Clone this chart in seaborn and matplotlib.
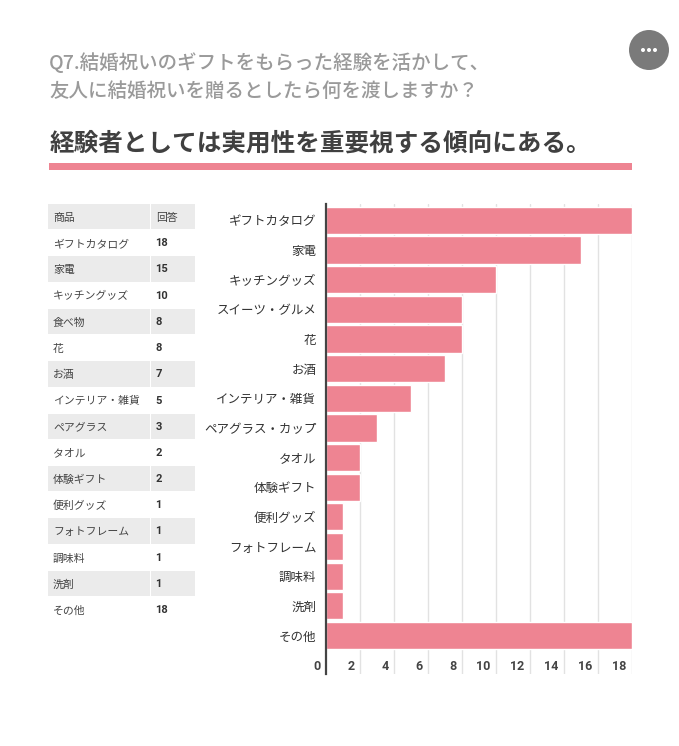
import pandas as pd
import matplotlib
matplotlib.use('Agg')
import matplotlib.pyplot as plt
from matplotlib.patches import Rectangle, Circle
import seaborn as sns

# data
chart_labels = ['ギフトカタログ', '家電', 'キッチングッズ', 'スイーツ・グルメ', '花', 'お酒',
                'インテリア・雑貨', 'ペアグラス・カップ', 'タオル', '体験ギフト', '便利グッズ',
                'フォトフレーム', '調味料', '洗剤', 'その他']
table_labels = ['ギフトカタログ', '家電', 'キッチングッズ', '食べ物', '花', 'お酒',
                'インテリア・雑貨', 'ペアグラス', 'タオル', '体験ギフト', '便利グッズ',
                'フォトフレーム', '調味料', '洗剤', 'その他']
answers = [18, 15, 10, 8, 8, 7, 5, 3, 2, 2, 1, 1, 1, 1, 18]
x_ticks = [2, 4, 6, 8, 10, 12, 14, 16, 18]
question = ['Q7.結婚祝いのギフトをもらった経験を活かして、', '友人に結婚祝いを贈るとしたら何を渡しますか？']
headline = '経験者としては実用性を重要視する傾向にある。'

sns.set_theme(style='white')
plt.rcParams['font.family'] = ['Noto Sans CJK JP', 'DejaVu Sans']

PINK = '#ee8492'
W, H = 679, 746

fig = plt.figure(figsize=(W / 100, H / 100), dpi=100, facecolor='white')

# overlay in pixel coordinates for header and table
bg = fig.add_axes([0, 0, 1, 1])
bg.set_xlim(0, W)
bg.set_ylim(H, 0)
bg.axis('off')

bg.text(49, 62.5, question[0], fontsize=14, fontweight='medium', color='#9a9a9a', va='center')
bg.text(49, 91.5, question[1], fontsize=14, fontweight='medium', color='#9a9a9a', va='center')
bg.text(49.5, 144, headline, fontsize=17.7, fontweight='bold', color='#404040', va='center')
bg.add_patch(Rectangle((49, 163), 583, 7, color=PINK, lw=0))

# menu button
bg.add_patch(Circle((649, 50), 20, color='#7a7a7a', lw=0))
for dx in (-6, 0, 6):
    bg.add_patch(Circle((649 + dx, 50), 2, color='white', lw=0))

# table
row_h = 26.2
top = 204
rows = [('商品', '回答')] + list(zip(table_labels, answers))
for i, (name, n) in enumerate(rows):
    y0 = top + i * row_h
    if i % 2 == 0 and i <= 14:
        bg.add_patch(Rectangle((48, y0), 102, row_h - 0.8, color='#ebebeb', lw=0))
        bg.add_patch(Rectangle((151, y0), 44, row_h - 0.8, color='#ebebeb', lw=0))
    yc = y0 + row_h / 2 + 0.8
    bg.text(53, yc, name, fontsize=7.8, color='#444444', va='center')
    if i == 0:
        bg.text(156, yc, n, fontsize=7.8, color='#444444', va='center')
    else:
        bg.text(155.5, yc - 0.8, str(n), fontsize=8, fontweight='bold', color='#333333',
                va='center', family=['Roboto', 'DejaVu Sans'])

# bar chart
df = pd.DataFrame({'item': chart_labels, 'count': answers})
ax_left, ax_right, ax_top, ax_bottom = 326, 632, 204, 674
ax = fig.add_axes([ax_left / W, 1 - ax_bottom / H, (ax_right - ax_left) / W, (ax_bottom - ax_top) / H])
ax.patch.set_alpha(0)
sns.barplot(data=df, x='count', y='item', color=PINK, saturation=1, width=0.92, ax=ax, zorder=3)
ax.set_xlim(0, 18)
ax.set_ylim(15.3, -0.55)
ax.set_xlabel('')
ax.set_ylabel('')
ax.set_xticks(x_ticks)
ax.set_xticklabels([])
ax.xaxis.grid(True, color='#e2e2e2', lw=1, zorder=0)
ax.yaxis.grid(False)
ax.tick_params(axis='both', length=0)
ax.tick_params(axis='y', labelsize=9, labelcolor='#333333', pad=7)
for side in ['top', 'right', 'bottom']:
    ax.spines[side].set_visible(False)
ax.spines['left'].set_color('#444444')
ax.spines['left'].set_linewidth(1.6)
ax.spines['left'].set_zorder(5)

# x tick numbers sit inside the plot, left of each gridline
for t in [0] + x_ticks:
    bg.text(ax_left + t * (ax_right - ax_left) / 18 - 5.5, 666, str(t), fontsize=9, fontweight='bold',
            color='#444444', ha='right', va='center', family=['Roboto', 'DejaVu Sans'])

fig.savefig('out.png', dpi=100)
